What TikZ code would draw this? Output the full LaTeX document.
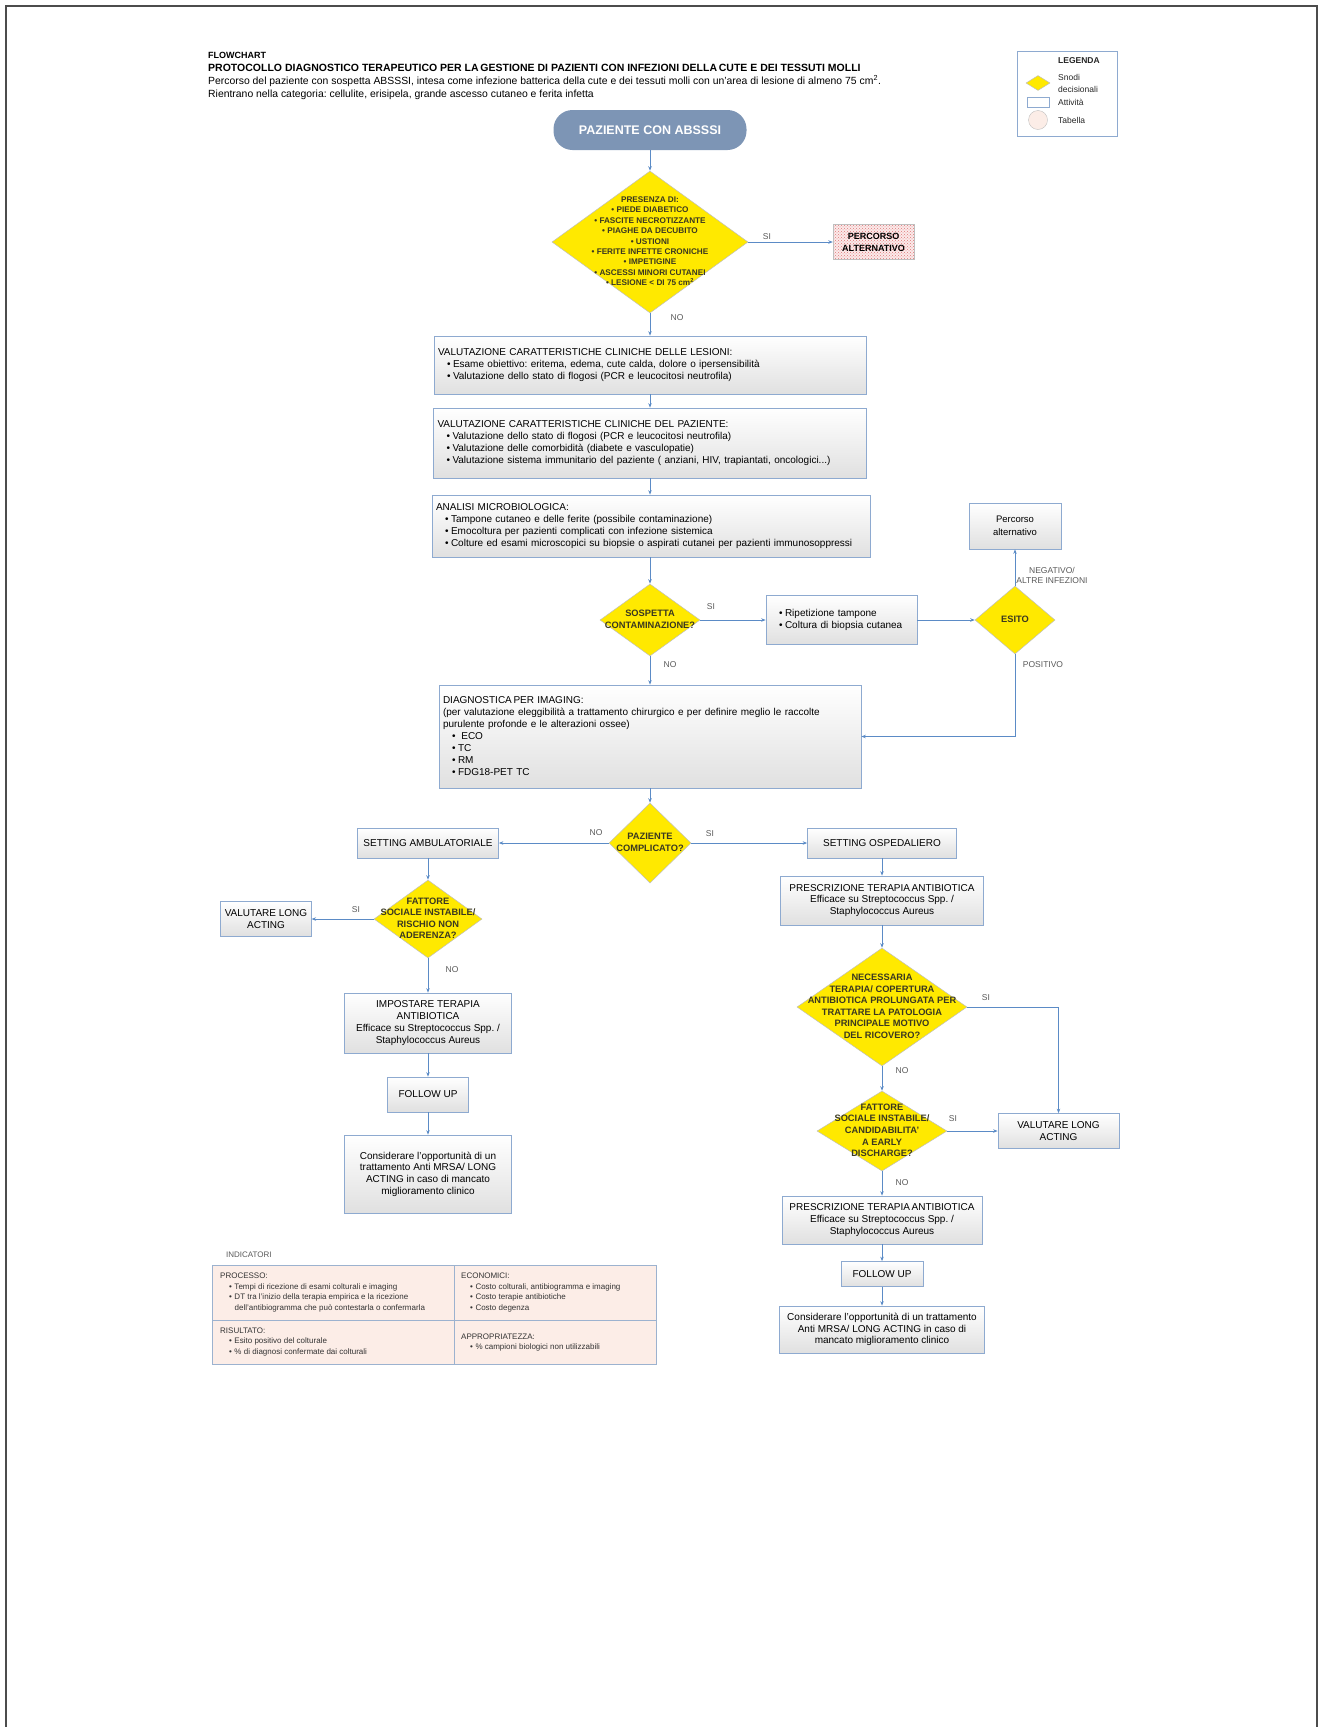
\documentclass[tikz,border=0pt]{standalone}
\usepackage{fontspec}
\setmainfont{Liberation Sans}
\usepackage{tikz}
\usetikzlibrary{arrows.meta,shapes.geometric,patterns}
\frenchspacing
\definecolor{arrowblue}{HTML}{5B8BC6}
\definecolor{boxline}{HTML}{8EAAD0}
\definecolor{boxgray}{HTML}{E0E0E0}
\definecolor{dyellow}{HTML}{FFE900}
\definecolor{dline}{HTML}{BFBFBF}
\definecolor{dtext}{HTML}{3A3820}
\definecolor{startblue}{HTML}{7D95B5}
\definecolor{labelgray}{HTML}{595959}
\definecolor{tabfill}{HTML}{FCEDE7}
\definecolor{tabline}{HTML}{9CB2CF}
\definecolor{dotred}{HTML}{E07878}
\definecolor{dotpink}{HTML}{FBEAEA}
\newcommand{\dtxt}[1]{\smash{\makebox[0pt]{\raisebox{-0.25em}{\begin{tabular}{@{}c@{}}#1\end{tabular}}}}}
\newcommand{\blt}{\hspace*{9pt}\textbullet\hspace{2.5pt}}

\begin{document}
\begin{tikzpicture}[x=1pt,y=-1pt,
  box/.style={draw=boxline,line width=0.7pt,top color=white,bottom color=boxgray,
              inner xsep=4pt,inner ysep=2pt,align=center,font=\fontsize{10}{11.7}\selectfont},
  dia/.style={shape=diamond,draw=dline,line width=0.5pt,fill=dyellow,inner sep=0pt,
              text=dtext,font=\bfseries\fontsize{9.3}{11.6}\selectfont},
  start/.style={rounded corners=19pt,fill=startblue,text=white,minimum width=193pt,
              minimum height=40pt,font=\bfseries\fontsize{12.5}{14}\selectfont},
  pbox/.style={draw=dline,preaction={fill=dotpink},pattern=crosshatch dots,pattern color=dotred,
              align=center,inner sep=1pt,font=\bfseries\fontsize{9}{12}\selectfont},
  ar/.style={-{Stealth[length=4.5pt,width=3.5pt]},draw=arrowblue,line width=0.8pt},
  lbl/.style={inner sep=0pt,text=labelgray,font=\fontsize{8.5}{10.5}\selectfont},
  tl/.style={anchor=base west,inner sep=0pt},
  lgt/.style={anchor=west,inner sep=0pt,text=black!85,font=\fontsize{8.5}{12}\selectfont},
  ctxt/.style={anchor=west,align=left,inner sep=0pt,text=black!80,font=\fontsize{8}{10.8}\selectfont},
  frame/.style={draw=black!70,line width=1.5pt}]
\useasboundingbox (0,0) rectangle (1322,1727);
\draw[frame] (6,1727) -- (6,6) -- (1317,6) -- (1317,1727);

% title
\node[tl,font=\bfseries\fontsize{9}{11}\selectfont] (t1) at (208,58.5) {FLOWCHART};
\node[tl,font=\bfseries\fontsize{10.5}{11}\selectfont] (t2) at (208,71.5) {PROTOCOLLO DIAGNOSTICO TERAPEUTICO PER LA\,GESTIONE DI PAZIENTI CON INFEZIONI DELLA\,CUTE E DEI TESSUTI MOLLI};
\node[tl,font=\fontsize{10.4}{11}\selectfont] (t3) at (208,84.5) {Percorso del paziente con sospetta ABSSSI, intesa come infezione batterica della cute e dei tessuti molli con un'area di lesione di almeno 75 cm\textsuperscript{2}.};
\node[tl,font=\fontsize{10.4}{11}\selectfont] (t4) at (208,97.5) {Rientrano nella categoria: cellulite, erisipela, grande ascesso cutaneo e ferita infetta};

% legenda
\node[draw=boxline,line width=0.6pt,minimum width=100pt,minimum height=85pt,inner sep=0pt] (leg) at (1067,93.5) {};
\node[lgt,font=\bfseries\fontsize{8.5}{10}\selectfont] (legt) at (1058,61) {LEGENDA};
\node[dia,minimum width=24pt,minimum height=15pt] (legd) at (1038,83) {};
\node[lgt,align=left] (legdt) at (1058,83) {Snodi\\decisionali};
\node[draw=boxline,line width=0.6pt,fill=white,minimum width=22pt,minimum height=10pt,inner sep=0pt] (legr) at (1038,102) {};
\node[lgt] (legrt) at (1058,102) {Attività};
\node[circle,draw=dline,fill=tabfill,minimum size=19pt,inner sep=0pt] (legc) at (1038,120) {};
\node[lgt] (legct) at (1058,120) {Tabella};

% main column
\node[start] (paz) at (650,130) {PAZIENTE CON ABSSSI};
\node[dia,minimum width=196pt,minimum height=142pt,font=\bfseries\fontsize{8.2}{10.4}\selectfont] (pres) at (650,242)
  {\dtxt{PRESENZA DI:\\ \textbullet\ PIEDE DIABETICO\\ \textbullet\ FASCITE NECROTIZZANTE\\ \textbullet\ PIAGHE DA DECUBITO\\
   \textbullet\ USTIONI\\ \textbullet\ FERITE INFETTE CRONICHE\\ \textbullet\ IMPETIGINE\\ \textbullet\ ASCESSI MINORI CUTANEI\\
   \textbullet\ LESIONE < DI 75 cm\textsuperscript{2}}};
\node[pbox,minimum width=81pt,minimum height=35pt] (alt1) at (873.5,242) {PERCORSO\\ALTERNATIVO};
\node[box,align=left,text width=424pt,minimum height=58pt] (les) at (650,365)
  {VALUTAZIONE CARATTERISTICHE CLINICHE DELLE LESIONI:\\
   \blt Esame obiettivo: eritema, edema, cute calda, dolore o ipersensibilità\\
   \blt Valutazione dello stato di flogosi (PCR e leucocitosi neutrofila)};
\node[box,align=left,text width=425pt,minimum height=70pt] (clin) at (650,443)
  {VALUTAZIONE CARATTERISTICHE CLINICHE DEL PAZIENTE:\\
   \blt Valutazione dello stato di flogosi (PCR e leucocitosi neutrofila)\\
   \blt Valutazione delle comorbidità (diabete e vasculopatie)\\
   \blt Valutazione sistema immunitario del paziente ( anziani, HIV, trapiantati, oncologici...)};
\node[box,align=left,text width=430pt,minimum height=62pt] (micro) at (651,526)
  {ANALISI MICROBIOLOGICA:\\
   \blt Tampone cutaneo e delle ferite (possibile contaminazione)\\
   \blt Emocoltura per pazienti complicati con infezione sistemica\\
   \blt Colture ed esami microscopici su biopsie o aspirati cutanei per pazienti immunosoppressi};
\node[dia,minimum width=100pt,minimum height=72pt] (cont) at (650,620) {\dtxt{SOSPETTA\\CONTAMINAZIONE?}};
\node[box,align=left,text width=143pt,minimum height=49pt] (rip) at (841.5,620)
  {\blt Ripetizione tampone\\ \blt Coltura di biopsia cutanea};
\node[dia,minimum width=80pt,minimum height=68pt] (esito) at (1015,620) {\dtxt{ESITO}};
\node[box,minimum width=92pt,minimum height=46pt,font=\fontsize{9.5}{12.5}\selectfont] (alt2) at (1015,526) {Percorso\\alternativo};
\node[box,align=left,text width=414pt,minimum height=103pt,font=\fontsize{10}{12}\selectfont] (img) at (650,736.5)
  {DIAGNOSTICA\,PER IMAGING:\\
   (per valutazione eleggibilità a trattamento chirurgico e per definire meglio le raccolte\\
   purulente profonde e le alterazioni ossee)\\
   \blt\ ECO\\ \blt TC\\ \blt RM\\ \blt FDG18-PET TC};
\node[dia,minimum width=82pt,minimum height=80pt] (compl) at (650,843) {\dtxt{PAZIENTE\\COMPLICATO?}};

% setting ambulatoriale
\node[box,minimum width=141pt,minimum height=30pt] (amb) at (428,843) {SETTING AMBULATORIALE};
\node[dia,minimum width=108pt,minimum height=78pt] (soc1) at (428,919) {\dtxt{FATTORE\\SOCIALE INSTABILE/\\RISCHIO NON\\ADERENZA?}};
\node[box,minimum width=88pt,minimum height=35pt] (long1) at (266,919) {VALUTARE LONG\\ACTING};
\node[box,minimum width=167pt,minimum height=60pt] (imp) at (428,1023)
  {IMPOSTARE TERAPIA\\ANTIBIOTICA\\Efficace su Streptococcus Spp. /\\Staphylococcus Aureus};
\node[box,minimum width=81pt,minimum height=35pt] (fu1) at (428,1094.5) {FOLLOW UP};
\node[box,minimum width=167pt,minimum height=78pt] (cons1) at (428,1174)
  {Considerare l'opportunità di un\\trattamento Anti MRSA/ LONG\\ACTING in caso di mancato\\miglioramento clinico};

% setting ospedaliero
\node[box,minimum width=149pt,minimum height=30pt] (osp) at (882,843) {SETTING OSPEDALIERO};
\node[box,minimum width=203pt,minimum height=49pt] (pr1) at (882,900.5)
  {PRESCRIZIONE TERAPIA\,ANTIBIOTICA\\Efficace su Streptococcus Spp. /\\Staphylococcus Aureus};
\node[dia,minimum width=170pt,minimum height=118pt] (prol) at (882,1007)
  {\dtxt{NECESSARIA\\TERAPIA/ COPERTURA\\ANTIBIOTICA PROLUNGATA PER\\TRATTARE LA PATOLOGIA\\PRINCIPALE MOTIVO\\DEL RICOVERO?}};
\node[dia,minimum width=130pt,minimum height=80pt] (soc2) at (882,1131)
  {\dtxt{FATTORE\\SOCIALE INSTABILE/\\CANDIDABILITA'\\A EARLY\\DISCHARGE?}};
\node[box,minimum width=121pt,minimum height=35pt] (long2) at (1058.5,1131) {VALUTARE LONG\\ACTING};
\node[box,minimum width=200pt,minimum height=48pt] (pr2) at (882,1220)
  {PRESCRIZIONE TERAPIA\,ANTIBIOTICA\\Efficace su Streptococcus Spp. /\\Staphylococcus Aureus};
\node[box,minimum width=82pt,minimum height=25pt] (fu2) at (882,1274) {FOLLOW UP};
\node[box,minimum width=205pt,minimum height=47pt] (cons2) at (882,1329.5)
  {Considerare l'opportunità di un trattamento\\Anti MRSA/ LONG ACTING in caso di\\mancato miglioramento clinico};

% connectors
\draw[ar] (paz) -- (pres);
\draw[ar] (pres.east) -- (alt1.west);
\draw[ar] (pres.south) -- (les.north);
\draw[ar] (les) -- (clin);
\draw[ar] (clin) -- (micro.north -| clin.south);
\draw[ar] (cont.north |- micro.south) -- (cont.north);
\draw[ar] (cont.east) -- (rip.west);
\draw[ar] (rip.east) -- (esito.west);
\draw[ar] (esito.north) -- (alt2.south);
\draw[ar] (esito.south) |- (img.east);
\draw[ar] (cont.south) -- (img.north);
\draw[ar] (img.south) -- (compl.north);
\draw[ar] (compl.west) -- (amb.east);
\draw[ar] (compl.east) -- (osp.west);
\draw[ar] (amb.south) -- (soc1.north);
\draw[ar] (soc1.west) -- (long1.east);
\draw[ar] (soc1.south) -- (imp.north);
\draw[ar] (imp) -- (fu1);
\draw[ar] (fu1) -- (cons1);
\draw[ar] (osp) -- (pr1);
\draw[ar] (pr1.south) -- (prol.north);
\draw[ar] (prol.east) -| (long2.north);
\draw[ar] (prol.south) -- (soc2.north);
\draw[ar] (soc2.east) -- (long2.west);
\draw[ar] (soc2.south) -- (pr2.north);
\draw[ar] (pr2) -- (fu2);
\draw[ar] (fu2) -- (cons2);

% labels
\node[lbl] (si1) at (767,237) {SI};
\node[lbl] (no1) at (677,318) {NO};
\node[lbl] (si2) at (711,607) {SI};
\node[lbl] (no2) at (670,665) {NO};
\node[lbl,align=center] (neg) at (1052,575.5) {NEGATIVO/\\ALTRE INFEZIONI};
\node[lbl] (pos) at (1043,665) {POSITIVO};
\node[lbl] (no3) at (596,833) {NO};
\node[lbl] (si3) at (710,834) {SI};
\node[lbl] (si4) at (356,910) {SI};
\node[lbl] (no4) at (452,970) {NO};
\node[lbl] (si5) at (986,998) {SI};
\node[lbl] (no5) at (902,1071) {NO};
\node[lbl] (si6) at (953,1119) {SI};
\node[lbl] (no6) at (902,1183) {NO};

% indicatori
\node[lbl,anchor=west,font=\fontsize{8}{10}\selectfont] (ind) at (226,1255) {INDICATORI};
\node[draw=tabline,line width=1pt,fill=tabfill,minimum width=444pt,minimum height=99pt,inner sep=0pt] (tab) at (434,1314.5) {};
\draw[draw=tabline,line width=1pt] (454,1265) -- (454,1364) (212,1320) -- (656,1320);
\node[ctxt] (proc) at (220,1292.5) {PROCESSO:\\ \blt Tempi di ricezione di esami colturali e imaging\\
  \blt DT tra l'inizio della terapia empirica e la ricezione\\ \hspace*{14.5pt}dell'antibiogramma che può contestarla o confermarla};
\node[ctxt] (econ) at (461,1292.5) {ECONOMICI:\\ \blt Costo colturali, antibiogramma e imaging\\
  \blt Costo terapie antibiotiche\\ \blt Costo degenza};
\node[ctxt] (ris) at (220,1342) {RISULTATO:\\ \blt Esito positivo del colturale\\ \blt \% di diagnosi confermate dai colturali};
\node[ctxt] (appr) at (461,1342.5) {APPROPRIATEZZA:\\ \blt \% campioni biologici non utilizzabili};
\end{tikzpicture}
\end{document}
